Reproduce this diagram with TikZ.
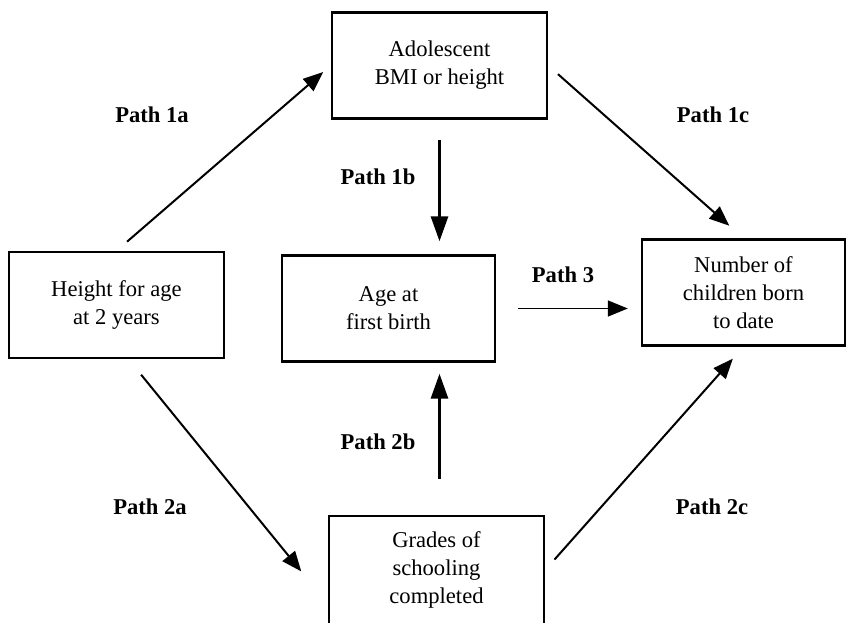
\documentclass[tikz,border=0pt]{standalone}
\usepackage{fontspec}
\setmainfont{Liberation Serif}
\usetikzlibrary{arrows.meta, positioning, calc}

\begin{document}
\begin{tikzpicture}[x=0.5pt, y=-0.5pt,
    box/.style={draw, line width=1.2pt, align=center, inner sep=0pt,
        minimum width=107.5pt, minimum height=53pt,
        font=\fontsize{11.3}{14}\selectfont},
    lbl/.style={font=\fontsize{11.3}{14}\selectfont\bfseries},
    link/.style={line width=1pt, -{Triangle[length=10pt, width=8pt]}},
    vlink/.style={line width=1.5pt, -{Triangle[length=12.5pt, width=8.5pt]}}]
    \useasboundingbox (0,0) rectangle (847,622);

    % Boxes
    \node[box] (ad) at (439.5,65.5) {Adolescent\\BMI or height};
    \node[box] (hf) at (116.5,305) {Height for age\\at 2 years};
    \node[box, minimum width=106.5pt] (age) at (388.5,308.5) {Age at\\first birth};
    \node[box, minimum width=101.5pt] (nc) at (743.5,292.5) {Number of\\children born\\to date};
    \node[box, minimum height=54pt] (gr) at (436.5,570) {Grades of\\schooling\\completed};

    % Path labels
    \foreach \x/\y/\t in {152/115/1a, 713/115/1c, 378/177/1b, 563/275/3,
                          378/442/2b, 150/507/2a, 712/507/2c} {
        \node[lbl] (l\t) at (\x,\y) {Path \t};
    }

    % Path 1: through adolescent size
    \draw[link, shorten <=7pt, shorten >=5pt] (hf.north) -- (ad.west);
    \draw[link, shorten <=6.5pt, shorten >=9.5pt] (ad.east) -- (nc.north);
    \draw[vlink, shorten <=10pt, shorten >=6.5pt] (ad.south) -- (ad.south |- age.north);

    % Path 2: through schooling
    \draw[link, shorten <=10pt, shorten >=21pt] ([xshift=6pt]hf.south) -- ([yshift=-17pt]gr.west);
    \draw[link, shorten <=7pt, shorten >=8pt] (gr.east) -- (nc.south);
    \draw[vlink, shorten <=18pt, shorten >=5.5pt] (ad.south |- gr.north) -- (ad.south |- age.south);

    % Path 3
    \draw[link, line width=0.8pt, shorten <=11pt, shorten >=6.5pt] (age.east) -- (age.east -| nc.west);
\end{tikzpicture}
\end{document}
